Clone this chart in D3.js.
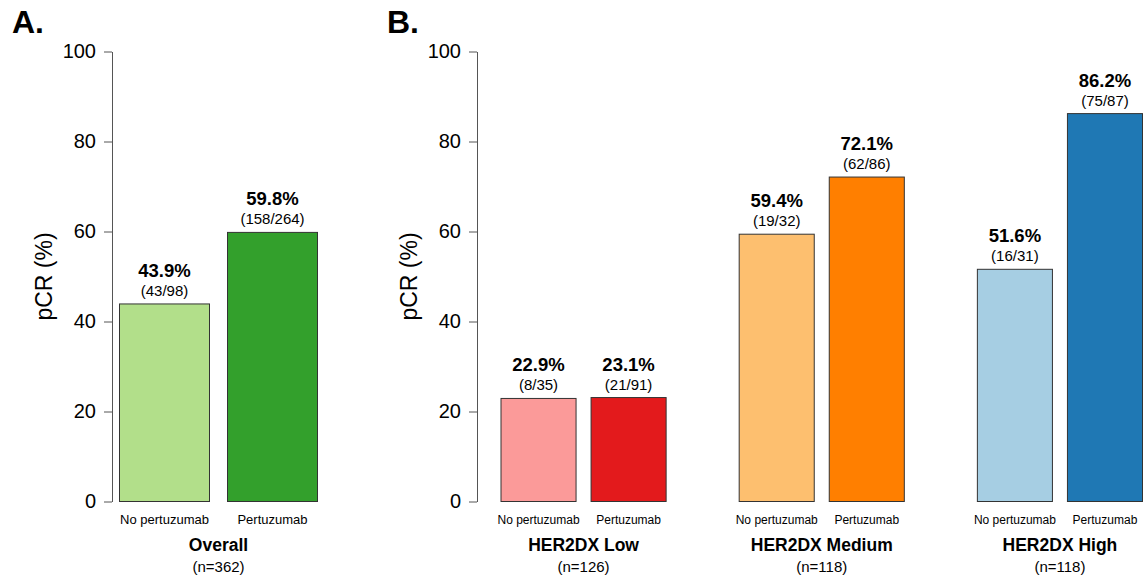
<!DOCTYPE html>
<html>
<head>
<meta charset="utf-8">
<title>pCR by pertuzumab</title>
<script src="https://cdn.jsdelivr.net/npm/d3@7"></script>
<style>
  body { margin: 0; background: #fff; }
  svg text { font-family: "Liberation Sans", Arial, sans-serif; fill: #000; }
  .axis path, .axis line { stroke: #555; }
</style>
</head>
<body>
<svg width="1143" height="579"></svg>
<script>
// ---- data ----
var treatments = ["No pertuzumab", "Pertuzumab"];
var yTicks = [0, 20, 40, 60, 80, 100];

var overallPct = [43.9, 59.8];
var overallFrac = ["(43/98)", "(158/264)"];
var overallColors = ["#b2df8a", "#33a02c"];

var groups = ["HER2DX Low", "HER2DX Medium", "HER2DX High"];
var groupN = ["(n=126)", "(n=118)", "(n=118)"];
var noPertPct = [22.9, 59.4, 51.6];
var pertPct = [23.1, 72.1, 86.2];
var noPertFrac = ["(8/35)", "(19/32)", "(16/31)"];
var pertFrac = ["(21/91)", "(62/86)", "(75/87)"];
var groupColors = [["#fb9a99", "#e31a1c"], ["#fdbf6f", "#ff7f00"], ["#a6cee3", "#1f78b4"]];

var svg = d3.select("svg");

var y = d3.scaleLinear().domain([0, 100]).range([501.5, 51.5]);

function drawPanel(opts) {
  var g = svg.append("g");

  g.append("text")
    .attr("x", opts.letterX).attr("y", 33)
    .style("font-size", "32px").style("font-weight", "bold")
    .text(opts.letter);

  var axis = g.append("g")
    .attr("class", "axis")
    .attr("transform", "translate(" + opts.axisX + ",0)")
    .call(d3.axisLeft(y).tickValues(yTicks).tickSize(8).tickSizeOuter(0).tickPadding(8));
  axis.selectAll("text").style("font-size", "20px").style("fill", "#000");
  axis.select(".domain").attr("stroke-width", 1);

  // y title
  g.append("text")
    .attr("transform", "translate(" + (opts.axisX - 60) + "," + y(50) + ") rotate(-90)")
    .attr("text-anchor", "middle")
    .style("font-size", "23px")
    .text("pCR (%)");

  var outer = d3.scaleBand()
    .domain(opts.groups)
    .range(opts.range)
    .paddingInner(opts.groupPad)
    .paddingOuter(0);

  var inner = d3.scaleBand()
    .domain(treatments)
    .range([0, outer.bandwidth()])
    .paddingInner(1 / 6)
    .paddingOuter(0);

  var rows = opts.groups.map(function(name, i) {
    return {
      name: name, n: opts.n[i],
      bars: treatments.map(function(t, j) {
        return { t: t, v: opts.pct[j][i], frac: opts.frac[j][i], color: opts.colors[i][j] };
      })
    };
  });

  var gg = g.selectAll(".grp").data(rows).enter().append("g")
    .attr("class", "grp")
    .attr("transform", function(d) { return "translate(" + outer(d.name) + ",0)"; });

  var b = gg.selectAll(".bar").data(function(d) { return d.bars; }).enter().append("g");

  b.append("rect")
    .attr("x", function(d) { return inner(d.t); })
    .attr("y", function(d) { return y(d.v); })
    .attr("width", inner.bandwidth())
    .attr("height", function(d) { return y(0) - y(d.v); })
    .attr("fill", function(d) { return d.color; })
    .attr("stroke", "#333")
    .attr("stroke-width", 1);

  b.append("text")
    .attr("x", function(d) { return inner(d.t) + inner.bandwidth() / 2; })
    .attr("y", function(d) { return y(d.v) - 27; })
    .attr("text-anchor", "middle")
    .style("font-size", "18.5px").style("font-weight", "bold")
    .text(function(d) { return d.v.toFixed(1) + "%"; });

  b.append("text")
    .attr("x", function(d) { return inner(d.t) + inner.bandwidth() / 2; })
    .attr("y", function(d) { return y(d.v) - 8; })
    .attr("text-anchor", "middle")
    .style("font-size", "15px")
    .text(function(d) { return d.frac; });

  b.append("text")
    .attr("x", function(d) { return inner(d.t) + inner.bandwidth() / 2; })
    .attr("y", y(0) + 22)
    .attr("text-anchor", "middle")
    .style("font-size", opts.tickFont)
    .text(function(d) { return d.t; });

  gg.append("text")
    .attr("x", outer.bandwidth() / 2)
    .attr("y", y(0) + 49)
    .attr("text-anchor", "middle")
    .style("font-size", "17.5px").style("font-weight", "bold")
    .text(function(d) { return d.name; });

  gg.append("text")
    .attr("x", outer.bandwidth() / 2)
    .attr("y", y(0) + 70)
    .attr("text-anchor", "middle")
    .style("font-size", "15px")
    .text(function(d) { return d.n; });
}

drawPanel({
  letter: "A.", letterX: 12, axisX: 112,
  groups: ["Overall"], n: ["(n=362)"],
  pct: [[overallPct[0]], [overallPct[1]]],
  frac: [[overallFrac[0]], [overallFrac[1]]],
  colors: [overallColors],
  range: [119.5, 317.5], groupPad: 0, tickFont: "13px"
});

drawPanel({
  letter: "B.", letterX: 387, axisX: 477,
  groups: groups, n: groupN,
  pct: [noPertPct, pertPct],
  frac: [noPertFrac, pertFrac],
  colors: groupColors,
  range: [501, 1142.5], groupPad: 73 / 238, tickFont: "12px"
});
</script>
</body>
</html>
